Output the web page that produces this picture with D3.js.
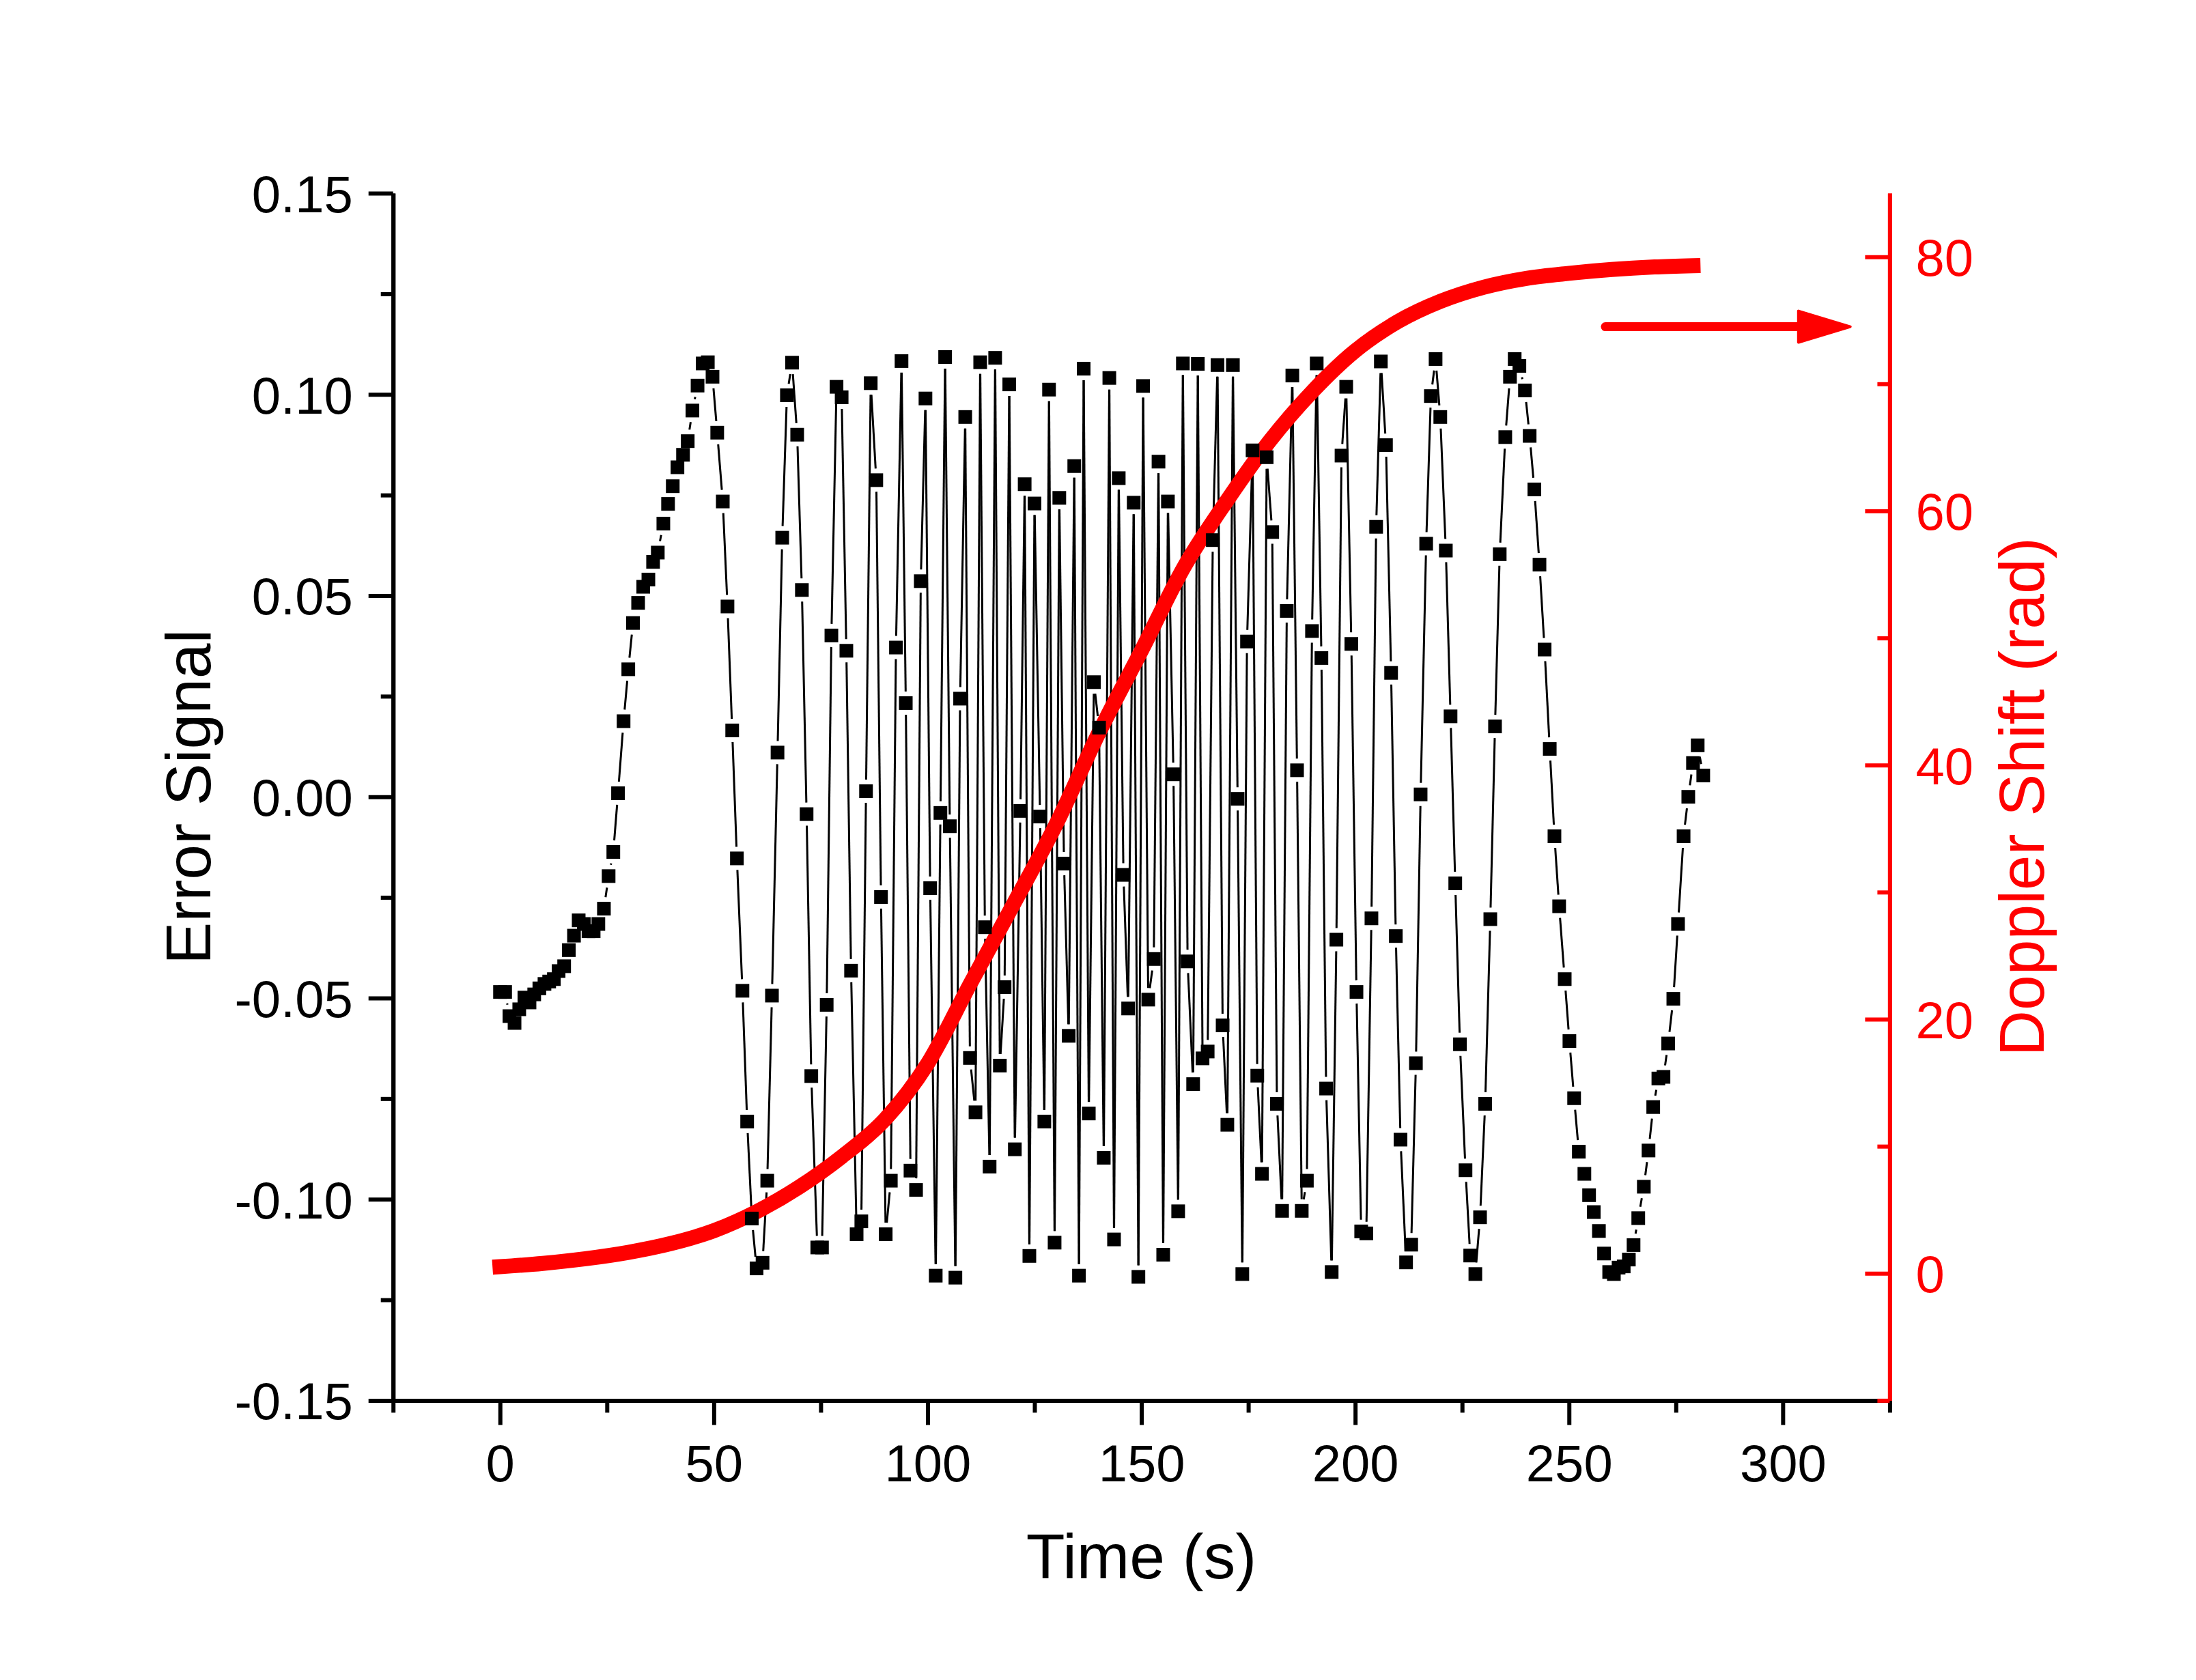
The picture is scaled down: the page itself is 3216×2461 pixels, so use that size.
<!DOCTYPE html>
<html>
<head>
<meta charset="utf-8">
<script src="https://cdn.jsdelivr.net/npm/d3@7"></script>
<style>
  body { margin: 0; background: #fff; }
  svg { display: block; font-family: "Liberation Sans", Arial, sans-serif; }
</style>
</head>
<body>
<div id="chart"></div>
<script>
// error signal samples (time in s, signal in a.u.)
const timeS = [
  0.0, 1.2, 2.2, 3.4, 4.5, 5.7, 6.9, 8.0, 9.2, 10.4, 11.5, 12.6, 13.7, 15.0, 16.1, 17.3, 18.4, 19.6, 20.7, 21.9,
  23.0, 24.3, 25.4, 26.5, 27.6, 28.9, 30.0, 31.1, 32.3, 33.5, 34.7, 35.8, 36.9, 38.2, 39.3, 40.4, 41.5, 42.8, 43.9, 45.0,
  46.2, 47.4, 48.6, 49.7, 50.8, 52.1, 53.2, 54.3, 55.4, 56.7, 57.8, 58.9, 60.0, 61.4, 62.5, 63.6, 64.9, 66.0, 67.1, 68.3,
  69.5, 70.6, 71.7, 72.8, 74.2, 75.3, 76.4, 77.5, 78.7, 79.9, 81.0, 82.1, 83.4, 84.5, 85.6, 86.7, 88.0, 89.1, 90.2, 91.4,
  92.6, 93.9, 94.9, 96.0, 97.3, 98.4, 99.5, 100.6, 101.9, 103.0, 104.1, 105.2, 106.5, 107.6, 108.8, 109.9, 111.2, 112.3, 113.4, 114.5,
  115.8, 116.9, 118.0, 119.1, 120.4, 121.7, 122.7, 123.8, 125.0, 126.3, 127.3, 128.4, 129.7, 130.8, 131.9, 133.0, 134.3, 135.4, 136.5, 137.7,
  138.9, 140.1, 141.2, 142.5, 143.6, 144.7, 145.8, 146.9, 148.2, 149.3, 150.4, 151.6, 152.9, 154.0, 155.1, 156.2, 157.5, 158.6, 159.7, 160.8,
  162.1, 163.2, 164.3, 165.5, 166.7, 167.8, 169.0, 170.1, 171.4, 172.5, 173.6, 174.7, 176.0, 177.1, 178.2, 179.3, 180.6, 181.7, 182.9, 184.0,
  185.3, 186.4, 187.5, 188.7, 189.9, 191.0, 192.1, 193.2, 194.5, 195.6, 196.8, 197.9, 199.1, 200.3, 201.4, 202.6, 203.8, 204.9, 206.0, 207.2,
  208.4, 209.5, 210.6, 211.9, 213.1, 214.2, 215.3, 216.6, 217.7, 218.8, 219.9, 221.2, 222.3, 223.4, 224.5, 225.8, 226.9, 228.1, 229.2, 230.4,
  231.6, 232.7, 233.8, 235.1, 236.2, 237.3, 238.4, 239.7, 240.8, 241.9, 243.1, 244.3, 245.5, 246.6, 247.7, 249.0, 250.1, 251.2, 252.3, 253.6,
  254.7, 255.8, 257.0, 258.2, 259.4, 260.5, 261.6, 262.8, 264.0, 265.1, 266.2, 267.5, 268.6, 269.7, 270.9, 272.1, 273.2, 274.4, 275.5, 276.8,
  277.9, 279.0, 280.1, 281.4
];
const errorSignal = [
  -0.0485, -0.0485, -0.0545, -0.0562, -0.0528, -0.0499, -0.0511, -0.0491, -0.0476, -0.0465, -0.0459, -0.0453, -0.0433, -0.0421, -0.0381, -0.0345, -0.0307, -0.0316, -0.0334, -0.0334,
  -0.0316, -0.0278, -0.0197, -0.0137, 0.0009, 0.0188, 0.0317, 0.0432, 0.0482, 0.0522, 0.0540, 0.0584, 0.0607, 0.0679, 0.0728, 0.0772, 0.0819, 0.0850, 0.0884, 0.0960,
  0.1022, 0.1077, 0.1080, 0.1044, 0.0905, 0.0734, 0.0473, 0.0165, -0.0153, -0.0482, -0.0807, -0.1048, -0.1172, -0.1158, -0.0954, -0.0494, 0.0110, 0.0644, 0.0998, 0.1079,
  0.0900, 0.0514, -0.0043, -0.0694, -0.1120, -0.1120, -0.0517, 0.0401, 0.1019, 0.0993, 0.0363, -0.0432, -0.1087, -0.1055, 0.0014, 0.1028, 0.0787, -0.0249, -0.1087, -0.0954,
  0.0371, 0.1083, 0.0233, -0.0929, -0.0977, 0.0536, 0.0990, -0.0227, -0.1190, -0.0040, 0.1093, -0.0073, -0.1195, 0.0244, 0.0944, -0.0649, -0.0784, 0.1080, -0.0324, -0.0919,
  0.1091, -0.0668, -0.0473, 0.1025, -0.0876, -0.0035, 0.0777, -0.1141, 0.0729, -0.0049, -0.0807, 0.1012, -0.1108, 0.0743, -0.0166, -0.0594, 0.0822, -0.1190, 0.1064, -0.0787,
  0.0285, 0.0172, -0.0897, 0.1041, -0.1100, 0.0792, -0.0194, -0.0526, 0.0731, -0.1193, 0.1021, -0.0504, -0.0403, 0.0833, -0.1138, 0.0734, 0.0056, -0.1030, 0.1077, -0.0409,
  -0.0714, 0.1076, -0.0650, -0.0633, 0.0638, 0.1073, -0.0568, -0.0815, 0.1073, -0.0005, -0.1186, 0.0386, 0.0861, -0.0693, -0.0937, 0.0844, 0.0658, -0.0763, -0.1029, 0.0462,
  0.1047, 0.0066, -0.1029, -0.0954, 0.0412, 0.1077, 0.0345, -0.0725, -0.1181, -0.0355, 0.0848, 0.1019, 0.0380, -0.0485, -0.1080, -0.1085, -0.0302, 0.0671, 0.1082, 0.0874,
  0.0308, -0.0346, -0.0852, -0.1157, -0.1113, -0.0662, 0.0006, 0.0629, 0.0996, 0.1088, 0.0944, 0.0612, 0.0200, -0.0215, -0.0615, -0.0928, -0.1140, -0.1186, -0.1045, -0.0763,
  -0.0304, 0.0175, 0.0603, 0.0894, 0.1044, 0.1088, 0.1071, 0.1010, 0.0897, 0.0764, 0.0577, 0.0366, 0.0119, -0.0098, -0.0272, -0.0453, -0.0607, -0.0749, -0.0882, -0.0937,
  -0.0990, -0.1032, -0.1079, -0.1135, -0.1181, -0.1186, -0.1170, -0.1167, -0.1150, -0.1114, -0.1047, -0.0969, -0.0879, -0.0771, -0.0700, -0.0696, -0.0613, -0.0502, -0.0316, -0.0098,
  0.0000, 0.0084, 0.0128, 0.0053
];

// Doppler shift (rad), read every 10 s
const dopplerTime = [0, 10, 20, 30, 40, 50, 60, 70, 80, 90, 100, 110, 120, 130, 140, 150, 160, 170, 180, 190, 200, 210, 220, 230, 240, 250, 260, 270, 279];
const dopplerShift = [0.52, 0.78, 1.15, 1.65, 2.35, 3.35, 4.85, 6.8, 9.2, 12.1, 16.5, 22.8, 29.0, 35.3, 42.5, 49.0, 55.6, 60.8, 65.5, 69.4, 72.6, 74.9, 76.5, 77.6, 78.3, 78.7, 79.0, 79.2, 79.3];

const xMajor = [0, 50, 100, 150, 200, 250, 300];
const xMinor = [-25, 25, 75, 125, 175, 225, 275, 325];
const yMajor = [-0.15, -0.10, -0.05, 0.00, 0.05, 0.10, 0.15];
const yMinor = [-0.125, -0.075, -0.025, 0.025, 0.075, 0.125];
const rMajor = [0, 20, 40, 60, 80];
const rMinor = [-10, 10, 30, 50, 70];

// arrow pointing at the right axis (in data units: time / Doppler shift)
const arrowFrom = [258.5, 74.5];
const arrowTo = [315.8, 74.5];

const W = 3216, H = 2461;
const plotL = 575.7, plotR = 2767.4, plotT = 283.1, plotB = 2051.4;
const red = "#ff0000";

const svg = d3.select("#chart").append("svg")
    .attr("width", W)
    .attr("height", H);

svg.append("rect").attr("width", W).attr("height", H).attr("fill", "#fff");

const x = d3.scaleLinear().domain([-25, 325]).range([plotL, plotR]);
const y = d3.scaleLinear().domain([-0.15, 0.15]).range([plotB, plotT]);
const yR = d3.scaleLinear().domain([-10, 85]).range([plotB, plotT]);

const styleAxis = (g, color, fs) => {
    g.select(".domain").attr("stroke", color).attr("stroke-width", 6);
    g.selectAll(".tick line").attr("stroke", color).attr("stroke-width", 6);
    g.selectAll(".tick text").attr("fill", color).style("font-size", fs + "px");
};

// bottom axis: minor then major
const gxMinor = svg.append("g").attr("transform", `translate(0,${plotB})`)
    .call(d3.axisBottom(x).tickValues(xMinor).tickSize(18).tickSizeOuter(0).tickFormat(""));
styleAxis(gxMinor, "#000", 76);
const gx = svg.append("g").attr("transform", `translate(0,${plotB})`)
    .call(d3.axisBottom(x).tickValues(xMajor).tickSize(36).tickSizeOuter(0).tickFormat(d3.format("d")));
styleAxis(gx, "#000", 76);
gx.selectAll(".tick text").attr("y", 119).attr("dy", 0);

// left axis
const gyMinor = svg.append("g").attr("transform", `translate(${plotL},0)`)
    .call(d3.axisLeft(y).tickValues(yMinor).tickSize(18).tickSizeOuter(0).tickFormat(""));
styleAxis(gyMinor, "#000", 76);
const gy = svg.append("g").attr("transform", `translate(${plotL},0)`)
    .call(d3.axisLeft(y).tickValues(yMajor).tickSize(36).tickPadding(23).tickSizeOuter(0)
        .tickFormat(d => d.toFixed(2)));
styleAxis(gy, "#000", 76);
gy.selectAll(".tick text").attr("dy", "0.36em");

// right axis (red), ticks pointing inwards
const grMinor = svg.append("g").attr("transform", `translate(${plotR},0)`)
    .call(d3.axisRight(yR).tickValues(rMinor).tickSize(-18).tickSizeOuter(0).tickFormat(""));
styleAxis(grMinor, red, 76);
const gr = svg.append("g").attr("transform", `translate(${plotR},0)`)
    .call(d3.axisRight(yR).tickValues(rMajor).tickSize(-36).tickPadding(38).tickSizeOuter(0).tickFormat(d3.format("d")));
styleAxis(gr, red, 76);
gr.selectAll(".tick text").attr("dy", "0.36em");

// axis titles
svg.append("text")
    .attr("transform", `translate(308,${(plotT + plotB) / 2}) rotate(-90)`)
    .attr("text-anchor", "middle")
    .style("font-size", "93px")
    .text("Error Signal");
svg.append("text")
    .attr("x", (plotL + plotR) / 2)
    .attr("y", 2312)
    .attr("text-anchor", "middle")
    .style("font-size", "93px")
    .text("Time (s)");
svg.append("text")
    .attr("transform", `translate(2993,${(plotT + plotB) / 2}) rotate(-90)`)
    .attr("text-anchor", "middle")
    .attr("fill", red)
    .style("font-size", "93px")
    .text("Doppler Shift (rad)");

// error signal: connecting segments with a small gap around each marker
const pts = timeS.map((t, i) => [x(t), y(errorSignal[i])]);
const gap = 17;
const segs = [];
for (let i = 1; i < pts.length; i++) {
    const [x0, y0] = pts[i - 1], [x1, y1] = pts[i];
    const len = Math.hypot(x1 - x0, y1 - y0);
    if (len <= 2 * gap) continue;
    const ux = (x1 - x0) / len, uy = (y1 - y0) / len;
    segs.push([x0 + ux * gap, y0 + uy * gap, x1 - ux * gap, y1 - uy * gap]);
}
svg.append("g")
    .selectAll("line")
    .data(segs)
    .join("line")
        .attr("x1", d => d[0]).attr("y1", d => d[1])
        .attr("x2", d => d[2]).attr("y2", d => d[3])
        .attr("stroke", "#000")
        .attr("stroke-width", 3);

// Doppler shift band
const redLine = d3.line()
    .x((d, i) => x(dopplerTime[i]))
    .y(d => yR(d))
    .curve(d3.curveMonotoneX);
svg.append("path")
    .attr("d", redLine(dopplerShift))
    .attr("fill", "none")
    .attr("stroke", red)
    .attr("stroke-width", 22)
    .attr("stroke-linecap", "square");

// markers on top
svg.append("g")
    .selectAll("rect")
    .data(pts)
    .join("rect")
        .attr("x", d => d[0] - 10)
        .attr("y", d => d[1] - 10)
        .attr("width", 20)
        .attr("height", 20)
        .attr("fill", "#000");

// arrow to the right axis
const ax0 = x(arrowFrom[0]), ay = yR(arrowFrom[1]), ax1 = x(arrowTo[0]);
svg.append("line")
    .attr("x1", ax0).attr("y1", ay)
    .attr("x2", ax1 - 70).attr("y2", ay)
    .attr("stroke", red)
    .attr("stroke-width", 13)
    .attr("stroke-linecap", "round");
svg.append("path")
    .attr("d", `M${ax1 - 76},${ay - 23} L${ax1},${ay} L${ax1 - 76},${ay + 23} Z`)
    .attr("fill", red)
    .attr("stroke", red)
    .attr("stroke-width", 4)
    .attr("stroke-linejoin", "round");
</script>
</body>
</html>
